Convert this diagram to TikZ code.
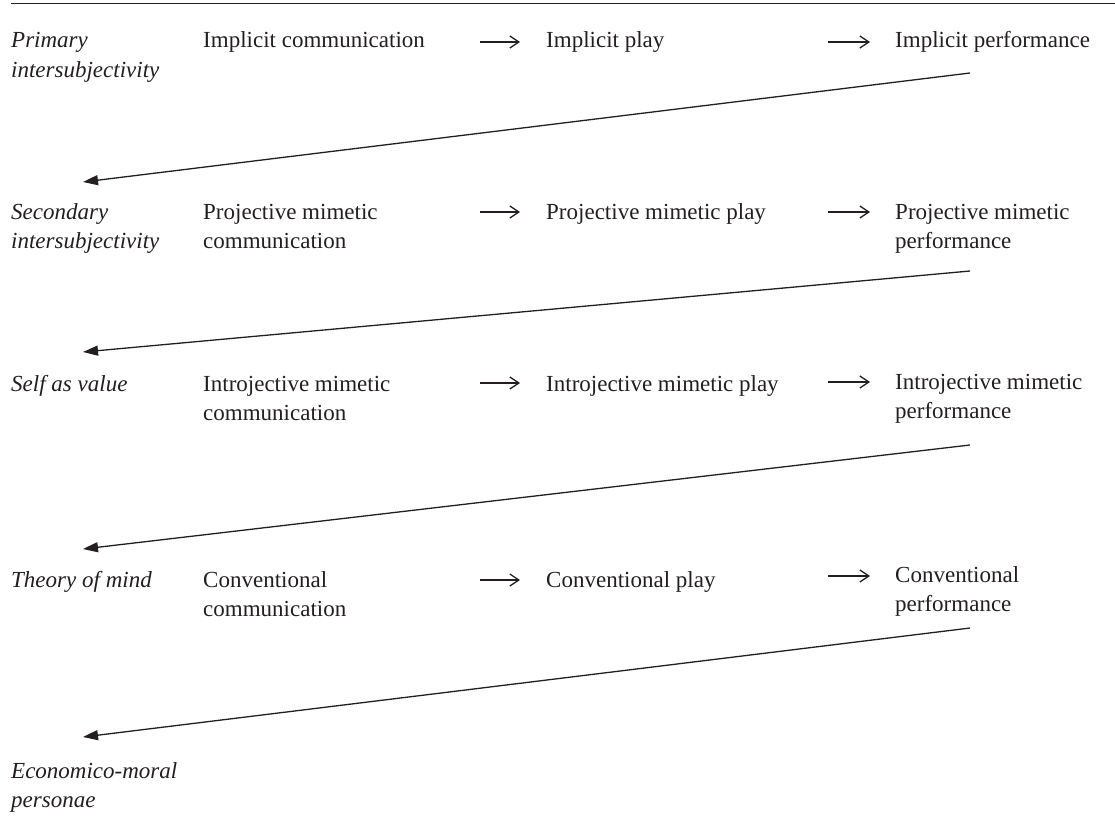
\documentclass[tikz,border=0pt]{standalone}
\usepackage{fontspec}
\setmainfont{Liberation Serif}
\usetikzlibrary{arrows.meta}
\definecolor{ink}{RGB}{35,31,32}
\begin{document}
\begin{tikzpicture}[x=1pt,y=-1pt, color=ink,
  txt/.style={anchor=base west, inner sep=0pt, align=left, text=ink, font=\fontsize{23}{29.5}\selectfont},
  lab/.style={txt, font=\fontsize{23}{29.5}\selectfont\itshape},
  two/.style={yshift=-29.5pt},
  flow/.style={draw=ink, line width=1.3pt, -{Straight Barb[length=9pt,width=12pt]}},
  back/.style={draw=ink, line width=1.3pt, -{Triangle[length=15pt,width=10pt]}},
  rule/.style={draw=ink, line width=1.3pt}]
\useasboundingbox (0,0) rectangle (1115,824);
% top rule
\coordinate (r0) at (11,3.5);
\coordinate (r1) at (1115,3.5);
\draw[rule] (r0) -- (r1);
% row 1
\node[lab,two] (l1) at (11,48) {Primary\\intersubjectivity};
\node[txt] (c1) at (203,48) {Implicit communication};
\node[txt] (p1) at (546,48) {Implicit play};
\node[txt] (f1) at (895,48) {Implicit performance};
% row 2
\node[lab,two] (l2) at (11,219) {Secondary\\intersubjectivity};
\node[txt,two] (c2) at (203,219) {Projective mimetic\\communication};
\node[txt] (p2) at (546,219) {Projective mimetic play};
\node[txt,two] (f2) at (895,219) {Projective mimetic\\performance};
% row 3
\node[lab] (l3) at (11,391) {Self as value};
\node[txt,two] (c3) at (203,391) {Introjective mimetic\\communication};
\node[txt] (p3) at (546,391) {Introjective mimetic play};
\node[txt,two] (f3) at (895,389) {Introjective mimetic\\performance};
% row 4
\node[lab] (l4) at (11,587) {Theory of mind};
\node[txt,two] (c4) at (203,587) {Conventional\\communication};
\node[txt] (p4) at (546,587) {Conventional play};
\node[txt,two] (f4) at (895,582) {Conventional\\performance};
% row 5
\node[lab,two] (l5) at (11,778) {Economico-moral\\personae};
% short arrows
\coordinate (a1s) at (480,42);  \coordinate (a1e) at (520,42);
\coordinate (b1s) at (828,42);  \coordinate (b1e) at (870,42);
\coordinate (a2s) at (480,212); \coordinate (a2e) at (520,212);
\coordinate (b2s) at (828,212); \coordinate (b2e) at (870,212);
\coordinate (a3s) at (480,383); \coordinate (a3e) at (520,383);
\coordinate (b3s) at (828,382); \coordinate (b3e) at (870,382);
\coordinate (a4s) at (480,580); \coordinate (a4e) at (520,580);
\coordinate (b4s) at (828,576); \coordinate (b4e) at (870,576);
\foreach \r in {1,2,3,4} {
  \draw[flow] (a\r s) -- (a\r e);
  \draw[flow] (b\r s) -- (b\r e);
}
% long back arrows
\coordinate (s1) at (970,73);  \coordinate (t1) at (83,182);
\coordinate (s2) at (970,271); \coordinate (t2) at (83,352);
\coordinate (s3) at (970,445); \coordinate (t3) at (83,549);
\coordinate (s4) at (970,628); \coordinate (t4) at (83,737);
\foreach \r in {1,2,3,4} {
  \draw[back] (s\r) -- (t\r);
}
\end{tikzpicture}
\end{document}
